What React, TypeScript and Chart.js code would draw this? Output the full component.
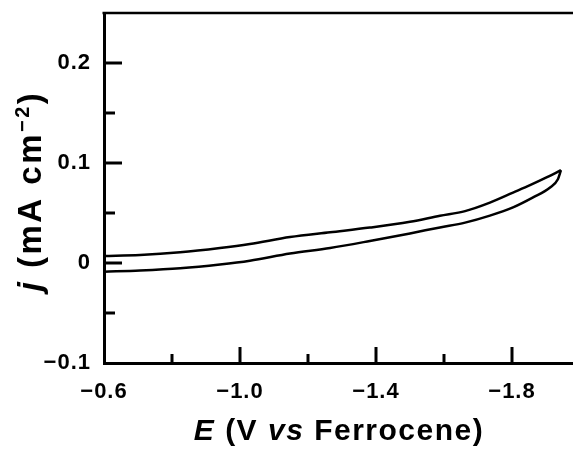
import { useEffect, useRef } from 'react';
import { Chart, registerables } from 'chart.js';

Chart.register(...registerables);

// Forward sweep (upper branch), from -0.6 V to the switching potential
const E_FORWARD = [-0.600, -0.706, -0.824, -0.941, -1.029, -1.147, -1.265, -1.382, -1.500, -1.588, -1.662, -1.735, -1.803, -1.853, -1.903, -1.944];
const J_FORWARD = [0.0070, 0.0080, 0.0107, 0.0150, 0.0190, 0.0259, 0.0307, 0.0354, 0.0412, 0.0472, 0.0519, 0.0604, 0.0704, 0.0778, 0.0858, 0.0928];
// Reverse sweep (lower branch), from the switching potential back to -0.6 V
const E_REVERSE = [-1.944, -1.935, -1.912, -1.862, -1.803, -1.735, -1.662, -1.588, -1.500, -1.382, -1.265, -1.147, -1.029, -0.941, -0.824, -0.706, -0.600];
const J_REVERSE = [0.0928, 0.0838, 0.0755, 0.0656, 0.0556, 0.0474, 0.0404, 0.0356, 0.0296, 0.0220, 0.0150, 0.0095, 0.0023, -0.0015, -0.0053, -0.0075, -0.0087];

const X_TICK_VALUES = [-0.6, -0.8, -1.0, -1.2, -1.4, -1.6, -1.8];
const X_TICK_LABELS = ['−0.6', '', '−1.0', '', '−1.4', '', '−1.8'];
const Y_TICK_VALUES = [-0.1, -0.05, 0, 0.05, 0.1, 0.15, 0.2];
const Y_TICK_LABELS = ['−0.1', '', '0', '', '0.1', '', '0.2'];

const X_MIN = -2.0;
const X_MAX = -0.6;
const Y_MIN = -0.1;
const Y_MAX = 0.25;

const FONT = '"Liberation Sans", Arial, Helvetica, sans-serif';

function labelFor(values: number[], labels: string[], v: number): string {
  const i = values.findIndex((t) => Math.abs(t - v) < 1e-6);
  return i >= 0 ? labels[i] : '';
}

type Piece = { t: string; italic: boolean; size: number; rise: number };

function drawPieces(ctx: CanvasRenderingContext2D, pieces: Piece[], centerX: number, baseline: number) {
  const fontOf = (p: Piece) => `${p.italic ? 'italic ' : ''}bold ${p.size}px ${FONT}`;
  let total = 0;
  const widths = pieces.map((p) => {
    ctx.font = fontOf(p);
    const w = ctx.measureText(p.t).width;
    total += w;
    return w;
  });
  let x = centerX - total / 2;
  pieces.forEach((p, i) => {
    ctx.font = fontOf(p);
    ctx.fillText(p.t, x, baseline - p.rise);
    x += widths[i];
  });
}

const decorPlugin = {
  id: 'decor',
  beforeDraw(chart: any) {
    chart.ctx.letterSpacing = '1px';
  },
  afterDraw(chart: any) {
    const ctx: CanvasRenderingContext2D = chart.ctx;
    const { left, right, top, bottom } = chart.chartArea;
    const xs = chart.scales.x;
    const ys = chart.scales.y;
    ctx.save();
    ctx.strokeStyle = '#000';
    ctx.fillStyle = '#000';
    ctx.lineCap = 'butt';
    // top frame line
    ctx.lineWidth = 2.5;
    ctx.beginPath();
    ctx.moveTo(left - 1.5, top);
    ctx.lineTo(right, top);
    ctx.stroke();
    // inside tick marks
    ctx.lineWidth = 3;
    X_TICK_VALUES.forEach((v) => {
      const px = xs.getPixelForValue(v);
      if (Math.abs(px - left) < 2) return;
      const major = labelFor(X_TICK_VALUES, X_TICK_LABELS, v) !== '';
      const len = major ? 16 : 9;
      ctx.beginPath();
      ctx.moveTo(px, bottom);
      ctx.lineTo(px, bottom - len);
      ctx.stroke();
    });
    Y_TICK_VALUES.forEach((v) => {
      const py = ys.getPixelForValue(v);
      if (Math.abs(py - bottom) < 2) return;
      const major = labelFor(Y_TICK_VALUES, Y_TICK_LABELS, v) !== '';
      const len = major ? 18 : 11;
      ctx.beginPath();
      ctx.moveTo(left, py);
      ctx.lineTo(left + len, py);
      ctx.stroke();
    });
    // axis titles
    ctx.textAlign = 'left';
    ctx.textBaseline = 'alphabetic';
    (ctx as any).letterSpacing = '1.5px';
    drawPieces(
      ctx,
      [
        { t: 'E', italic: true, size: 30, rise: 0 },
        { t: ' (V ', italic: false, size: 30, rise: 0 },
        { t: 'vs', italic: true, size: 30, rise: 0 },
        { t: ' Ferrocene)', italic: false, size: 30, rise: 0 },
      ],
      339,
      440
    );
    ctx.translate(41, 191);
    ctx.rotate(-Math.PI / 2);
    (ctx as any).letterSpacing = '2.5px';
    drawPieces(
      ctx,
      [
        { t: 'j', italic: true, size: 33, rise: 0 },
        { t: ' (mA cm', italic: false, size: 33, rise: 0 },
        { t: '−2', italic: false, size: 20, rise: 12 },
        { t: ')', italic: false, size: 33, rise: 0 },
      ],
      0,
      0
    );
    ctx.restore();
    (ctx as any).letterSpacing = '0px';
  },
};

export default function App() {
  const canvasRef = useRef<HTMLCanvasElement | null>(null);

  useEffect(() => {
    const canvas = canvasRef.current;
    if (!canvas) return;
    const lineStyle = {
      showLine: true,
      borderColor: '#000',
      borderWidth: 2.5,
      pointRadius: 0,
      cubicInterpolationMode: 'monotone',
      fill: false,
    };
    const chart = new Chart(canvas, {
      type: 'scatter',
      data: {
        datasets: [
          { ...lineStyle, data: E_FORWARD.map((e, i) => ({ x: e, y: J_FORWARD[i] })) },
          { ...lineStyle, data: E_REVERSE.map((e, i) => ({ x: e, y: J_REVERSE[i] })) },
        ],
      },
      options: {
        animation: false,
        responsive: false,
        devicePixelRatio: 1,
        layout: { padding: { top: 0, right: 2, left: 0, bottom: 0 } },
        plugins: { legend: { display: false }, tooltip: { enabled: false } },
        scales: {
          x: {
            type: 'linear',
            reverse: true,
            min: X_MIN,
            max: X_MAX,
            afterBuildTicks: (s: any) => {
              s.ticks = X_TICK_VALUES.map((v) => ({ value: v }));
            },
            afterFit: (s: any) => {
              s.height = 87;
            },
            grid: { display: true, drawOnChartArea: false, drawTicks: false },
            border: { display: true, color: '#000', width: 3 },
            ticks: {
              color: '#000',
              padding: 16,
              maxRotation: 0,
              autoSkip: false,
              font: { family: FONT, size: 22, weight: 'bold' },
              callback: (v: any) => labelFor(X_TICK_VALUES, X_TICK_LABELS, Number(v)),
            },
          },
          y: {
            type: 'linear',
            min: Y_MIN,
            max: Y_MAX,
            afterBuildTicks: (s: any) => {
              s.ticks = Y_TICK_VALUES.map((v) => ({ value: v }));
            },
            afterFit: (s: any) => {
              s.width = 104;
              s.paddingTop = 13;
              s.paddingBottom = 0;
            },
            grid: { display: true, drawOnChartArea: false, drawTicks: false },
            border: { display: true, color: '#000', width: 3 },
            ticks: {
              color: '#000',
              padding: 13,
              autoSkip: false,
              font: { family: FONT, size: 22, weight: 'bold' },
              callback: (v: any) => labelFor(Y_TICK_VALUES, Y_TICK_LABELS, Number(v)),
            },
          },
        },
      },
      plugins: [decorPlugin],
    } as any);
    return () => chart.destroy();
  }, []);

  return (
    <div
      style={{
        position: 'fixed',
        left: 0,
        top: 0,
        width: 573,
        height: 450,
        overflow: 'hidden',
        background: '#fff',
      }}
    >
      <canvas ref={canvasRef} width={582} height={450} style={{ display: 'block' }} />
    </div>
  );
}
